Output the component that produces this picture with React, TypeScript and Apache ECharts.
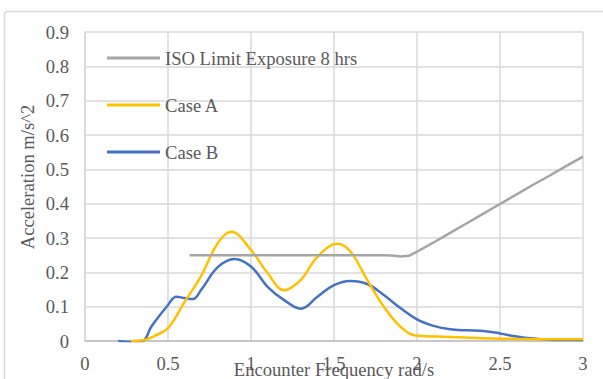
import React, { useEffect, useRef } from "react";
import * as echarts from "echarts";

const isoLimit: [number, number][] = [
  [0.63, 0.25], [0.8, 0.25], [1.0, 0.25], [1.2, 0.25], [1.4, 0.25], [1.6, 0.25],
  [1.8, 0.25], [1.85, 0.249], [1.9, 0.246], [1.95, 0.248], [2.0, 0.26], [2.1, 0.287],
  [2.2, 0.315], [2.3, 0.343], [2.4, 0.371], [2.5, 0.399], [2.6, 0.427], [2.7, 0.455],
  [2.8, 0.482], [2.9, 0.51], [3.0, 0.537],
];

const caseA: [number, number][] = [
  [0.28, 0.0], [0.35, 0.002], [0.42, 0.015], [0.5, 0.038], [0.6, 0.114], [0.7, 0.19],
  [0.8, 0.285], [0.88, 0.318], [1.0, 0.265], [1.1, 0.198], [1.2, 0.148], [1.3, 0.178],
  [1.4, 0.245], [1.52, 0.283], [1.6, 0.26], [1.7, 0.178], [1.8, 0.1], [1.9, 0.042],
  [2.0, 0.015], [2.2, 0.012], [2.4, 0.008], [2.6, 0.006], [2.8, 0.005], [3.0, 0.005],
];

const caseB: [number, number][] = [
  [0.2, 0.0], [0.3, -0.003], [0.35, 0.0], [0.4, 0.042], [0.5, 0.105], [0.55, 0.129],
  [0.6, 0.125], [0.65, 0.122], [0.7, 0.149], [0.8, 0.215], [0.9, 0.239], [1.0, 0.217],
  [1.1, 0.158], [1.2, 0.119], [1.3, 0.094], [1.4, 0.129], [1.5, 0.163], [1.6, 0.175],
  [1.7, 0.166], [1.8, 0.134], [1.9, 0.096], [2.0, 0.063], [2.1, 0.044], [2.2, 0.034],
  [2.3, 0.031], [2.4, 0.029], [2.5, 0.022], [2.6, 0.013], [2.7, 0.007], [2.8, 0.004],
  [3.0, 0.003],
];

const seriesNames = ["ISO Limit Exposure 8 hrs", "Case A", "Case B"];
const seriesColors = ["#A5A5A5", "#FFC000", "#4472C4"];
const xTitle = "Encounter Frequency rad/s";
const yTitle = "Acceleration m/s^2";

const FONT = "Liberation Serif, Times New Roman, serif";
const FS = 18.6;

export default function App() {
  const ref = useRef<HTMLDivElement>(null);
  useEffect(() => {
    if (!ref.current) return;
    const chart = echarts.init(ref.current, undefined, { renderer: "svg" });
    const datasets = [isoLimit, caseA, caseB];
    chart.setOption({
      animation: false,
      backgroundColor: "#ffffff",
      textStyle: { fontFamily: FONT },
      graphic: [
        {
          type: "rect",
          shape: { x: 4.5, y: 11.5, width: 700, height: 500, r: 3 },
          style: { fill: "none", stroke: "#D9D9D9", lineWidth: 1.5 },
          silent: true,
          z: -1,
        },
        {
          type: "text",
          x: 27,
          y: 177,
          rotation: Math.PI / 2,
          style: {
            text: yTitle,
            fontFamily: FONT,
            fontSize: FS,
            fill: "#595959",
            align: "center",
            verticalAlign: "middle",
          },
        },
      ],
      grid: {
        left: 85,
        right: 20,
        top: 32,
        bottom: 38,
        containLabel: false,
        outerBoundsMode: "none",
      },
      legend: {
        orient: "vertical",
        left: 102,
        top: 42,
        icon: "rect",
        itemWidth: 53,
        itemHeight: 3,
        itemGap: 25,
        data: seriesNames,
        textStyle: { fontFamily: FONT, fontSize: FS, color: "#595959", lineHeight: 22 },
      },
      xAxis: {
        type: "value",
        min: 0,
        max: 3,
        interval: 0.5,
        name: xTitle,
        nameLocation: "middle",
        nameGap: 19,
        nameMoveOverlap: false,
        nameTextStyle: { fontFamily: FONT, fontSize: FS, color: "#595959" },
        axisLine: { show: true, lineStyle: { color: "#BFBFBF", width: 1.5 } },
        axisTick: { show: false },
        axisLabel: {
          margin: 13,
          fontFamily: FONT,
          fontSize: FS,
          color: "#595959",
          formatter: (v: number) => String(v),
        },
        splitLine: { show: true, lineStyle: { color: "#D9D9D9", width: 1.5 } },
      },
      yAxis: {
        type: "value",
        min: 0,
        max: 0.9,
        interval: 0.1,
        axisLine: { show: true, lineStyle: { color: "#D9D9D9", width: 1.5 } },
        axisTick: { show: false },
        axisLabel: {
          margin: 16,
          fontFamily: FONT,
          fontSize: FS,
          color: "#595959",
          formatter: (v: number) => (v === 0 ? "0" : v.toFixed(1)),
        },
        splitLine: { show: true, lineStyle: { color: "#D9D9D9", width: 1.5 } },
      },
      series: seriesNames.map((name, i) => ({
        name,
        type: "line",
        data: datasets[i],
        smooth: i === 0 ? false : 0.4,
        showSymbol: false,
        symbol: "none",
        color: seriesColors[i],
        lineStyle: { color: seriesColors[i], width: 2.5 },
        z: 3 - i,
      })),
    });
    return () => chart.dispose();
  }, []);
  return (
    <div
      ref={ref}
      style={{ position: "fixed", left: 0, top: 0, width: 603, height: 379 }}
    />
  );
}
